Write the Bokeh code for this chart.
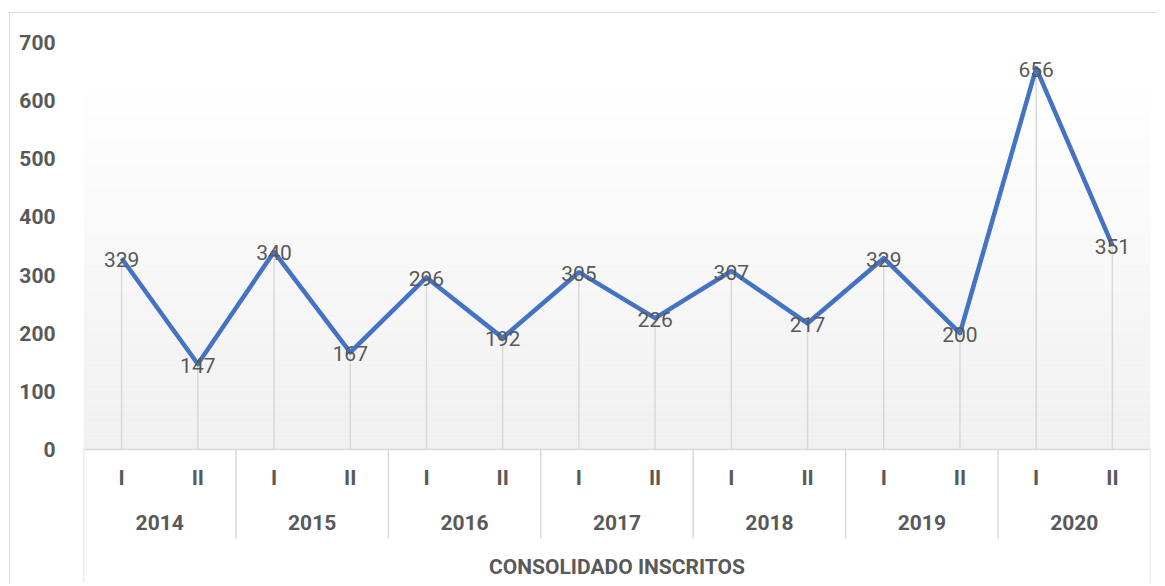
import numpy as np
from bokeh.plotting import figure
from bokeh.models import FactorRange, Range1d, FixedTicker, Span
from bokeh.core.properties import value
from bokeh.embed import file_html
from bokeh.resources import INLINE

# ---------------- data ----------------
years = ["2014", "2015", "2016", "2017", "2018", "2019", "2020"]
semesters = ["I", "II"]
inscritos = [329, 147, 340, 167, 296, 192, 305, 226, 307, 217, 329, 200, 656, 351]
y_ticks = [0, 100, 200, 300, 400, 500, 600, 700]
axis_title = "CONSOLIDADO INSCRITOS"

factors = [(y, s) for y in years for s in semesters]

# ---------------- geometry ----------------
W, H = 1148, 572
ML, MR, MT, MB = 73, 8, 0, 0
Y_START, Y_END = -234, 750
frame_h = H - MT - MB
PX = frame_h / (Y_END - Y_START)          # pixels per data unit


def below(px):
    """data y that lies px pixels below the zero line"""
    return -px / PX


FONT_NAME = "Roboto"
FONT = value(FONT_NAME)
FS = "21px"
GREY = "#595959"
LINE_GREY = "#d9d9d9"

p = figure(
    x_range=FactorRange(*factors, factor_padding=0, group_padding=0, range_padding=0),
    y_range=Range1d(Y_START, Y_END),
    width=W, height=H,
    min_border_left=ML, min_border_right=MR, min_border_top=MT, min_border_bottom=MB,
    output_backend="svg", toolbar_location=None,
    margin=(12, 0, 0, 9),
)
p.styles = {"border-top": "1px solid #d9d9d9", "border-left": "1px solid #d9d9d9"}
p.outline_line_color = None
p.background_fill_color = "white"
p.border_fill_color = "white"
p.grid.visible = False
p.xaxis.visible = False

# y axis
p.yaxis.ticker = FixedTicker(ticks=y_ticks)
p.yaxis.axis_line_color = None
p.yaxis.major_tick_line_color = None
p.yaxis.minor_tick_line_color = None
p.yaxis.major_label_standoff = 22
p.yaxis.major_label_text_font = FONT_NAME
p.yaxis.major_label_text_font_style = "bold"
p.yaxis.major_label_text_font_size = FS
p.yaxis.major_label_text_color = GREY

# gradient plot-area background (white at top -> light grey at zero)
n_bands = 80
n = len(factors)
edges = np.linspace(0, Y_END, n_bands + 1)
cols = []
for i in range(n_bands):
    t = (i + 0.5) / n_bands          # 0 bottom, 1 top
    g = int(round(240 + (255 - 240) * min(1.0, t / 0.85)))
    cols.append("#%02x%02x%02x" % (g, g, g))
p.quad(left=0, right=n, bottom=edges[:-1], top=edges[1:], fill_color=cols, line_color=None)

# category axis line and separators
p.add_layout(Span(location=0, dimension="width", line_color=LINE_GREY, line_width=1.5))
sep_x = list(range(0, n + 1, len(semesters)))
sep_bottom = [below(133) if (x == 0 or x == n) else below(89) for x in sep_x]
p.segment(x0=sep_x, y0=0, x1=sep_x, y1=sep_bottom, line_color=LINE_GREY, line_width=1.5)

# drop lines
p.segment(x0=factors, y0=0, x1=factors, y1=inscritos, line_color=LINE_GREY, line_width=1.5)

# main series
p.line(x=factors, y=inscritos, line_color="#4472C4", line_width=4.5, line_join="round")

# data labels
p.text(x=factors, y=inscritos, text=[str(v) for v in inscritos],
       text_align="center", text_baseline="middle", y_offset=1,
       text_font=FONT, text_font_size=FS, text_color=GREY)

# category labels
p.text(x=factors, y=below(29), text=[f[1] for f in factors],
       text_align="center", text_baseline="middle",
       text_font=FONT, text_font_style="bold", text_font_size=FS, text_color=GREY)
p.text(x=years, y=below(73), text=years,
       text_align="center", text_baseline="middle",
       text_font=FONT, text_font_style="bold", text_font_size=FS, text_color=GREY)
p.text(x=[n / 2], y=below(118), text=[axis_title],
       text_align="center", text_baseline="middle",
       text_font=FONT, text_font_style="bold", text_font_size=FS, text_color=GREY)

open("out.html", "w").write(file_html(p, INLINE))
